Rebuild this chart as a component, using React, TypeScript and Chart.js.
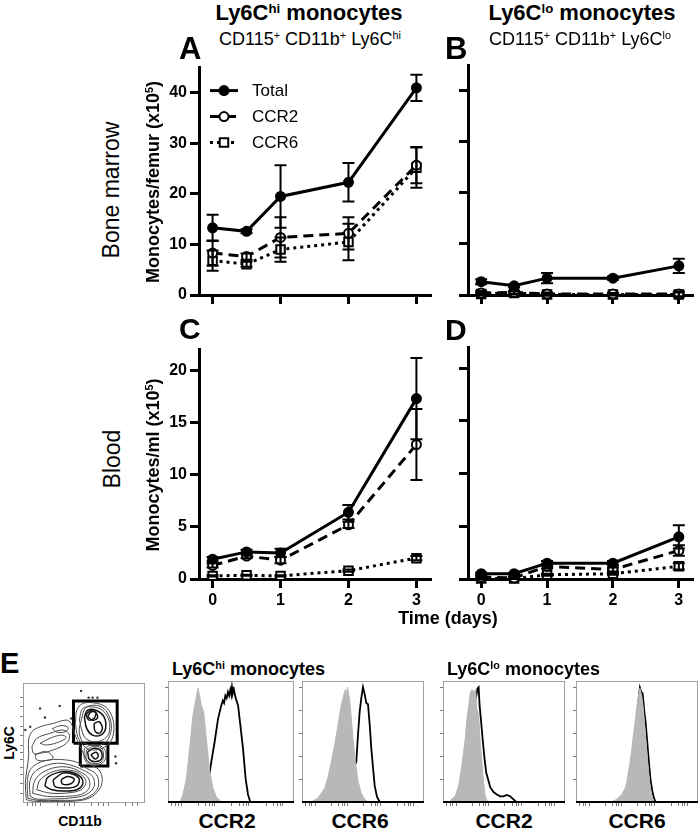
import React, { useEffect, useRef } from 'react';
import { Chart, registerables } from 'chart.js';

Chart.register(...registerables);

const FONT = "'Liberation Sans', Arial, Helvetica, sans-serif";

// ---------- time-course data ----------
const days = [0, 0.5, 1, 2, 3];
const dayTicks = [0, 1, 2, 3];
const bmTicks = [0, 10, 20, 30, 40];
const bloodTicks = [0, 5, 10, 15, 20];
const seriesLabels = ['Total', 'CCR2', 'CCR6'];

// A: bone marrow, Ly6C hi
const bmHiTotal = [13.3, 12.6, 19.5, 22.3, 41.0];
const bmHiTotalErr = [2.6, 0.4, 6.2, 3.8, 2.6];
const bmHiCCR2 = [8.3, 7.6, 11.4, 12.2, 25.7];
const bmHiCCR2Err = [2.5, 0.6, 4.0, 3.2, 3.6];
const bmHiCCR6 = [6.8, 6.1, 9.0, 10.5, 25.2];
const bmHiCCR6Err = [2.0, 0.5, 2.4, 3.6, 4.0];

// B: bone marrow, Ly6C lo
const bmLoTotal = [2.6, 1.8, 3.3, 3.3, 5.7];
const bmLoTotalErr = [0.5, 0.3, 1.0, 0.3, 1.4];
const bmLoCCR2 = [0.4, 0.5, 0.2, 0.2, 0.2];
const bmLoCCR2Err = [0.4, 0.3, 0.3, 0.2, 0.5];
const bmLoCCR6 = [0.2, 0.4, 0.1, 0.1, 0.1];
const bmLoCCR6Err = [0.2, 0.3, 0.2, 0.2, 0.4];

// C: blood, Ly6C hi
const bloodHiTotal = [1.9, 2.6, 2.5, 6.4, 17.3];
const bloodHiTotalErr = [0.2, 0.2, 0.4, 0.7, 3.9];
const bloodHiCCR2 = [1.3, 2.2, 1.8, 5.2, 12.9];
const bloodHiCCR2Err = [0.2, 0.2, 0.3, 0.3, 3.4];
const bloodHiCCR6 = [0.3, 0.35, 0.3, 0.8, 2.0];
const bloodHiCCR6Err = [0.05, 0.05, 0.05, 0.1, 0.2];

// D: blood, Ly6C lo
const bloodLoTotal = [0.5, 0.5, 1.5, 1.5, 4.0];
const bloodLoTotalErr = [0.1, 0.1, 0.2, 0.2, 1.1];
const bloodLoCCR2 = [0.2, 0.1, 1.2, 0.9, 2.7];
const bloodLoCCR2Err = [0.1, 0.1, 0.2, 0.2, 0.5];
const bloodLoCCR6 = [0.05, 0.05, 0.4, 0.5, 1.2];
const bloodLoCCR6Err = [0.05, 0.05, 0.1, 0.1, 0.3];

// ---------- flow histograms (channel %, height %) ----------
const hiCCR2Iso = [[0,0],[9.3,0],[11.9,7],[14.6,20],[17.2,45],[19.8,72],[22.5,87],[23.8,94],[25.1,88],[26.5,80],[28.3,75],[30.4,53],[33.1,26],[35.7,12],[38.4,5],[42.3,1],[45,0],[100,0]];
const hiCCR2Stain = [[0,0],[24,0],[28,8],[31,16],[32.5,21],[34.4,34],[37,50],[39.7,69],[42.3,80],[43.5,84],[44.5,82],[45.5,88],[46.5,86],[47.6,91],[48.5,88],[49.5,93],[50.3,89],[50.8,95],[51.5,90],[52.3,93],[53.7,86],[55.6,80],[57.4,64],[59.5,45],[61.6,20],[63.5,7],[65.3,1],[67.5,0],[100,0]];
const hiCCR6Iso = [[0,0],[5,0],[7.7,1],[13.1,4],[18.6,12],[21.3,21],[24,34],[26.8,48],[29.5,64],[31.7,78],[33.6,86],[35.5,93],[36.4,88],[37.2,95],[38.2,90],[39.1,84],[40.4,70],[41.8,53],[43.7,34],[45.9,18],[48.6,8],[51.4,3],[55.5,0],[100,0]];
const hiCCR6Stain = [[0,0],[30,0],[38,15],[42,28],[44.5,34],[45.9,56],[47.3,75],[48.6,86],[50,95],[51.4,89],[52.7,82],[54.1,81],[55.5,64],[56.8,45],[58.2,29],[59.6,14],[61.5,5],[63.7,1],[65.6,0],[100,0]];
const loCCR2Iso = [[0,0],[4,0],[6,2],[10.1,6],[12.8,14],[15.5,31],[18.3,53],[19.6,69],[21,80],[22.3,90],[23.7,93],[25.6,91],[26.7,93],[27.8,77],[29.2,72],[30.5,50],[31.9,34],[33.2,17],[34.6,6],[36,2],[38.7,0.5],[41.4,0],[100,0]];
const loCCR2Stain = [[0,0],[14,0],[18,25],[22,60],[25,82],[26.4,85],[27.2,87],[28.3,94],[29.2,95],[30,80],[31.3,66],[32.7,50],[34.1,36],[35.4,25],[36.8,20],[38.7,13],[41.4,9],[44.1,7],[46.9,5.5],[49.6,5.5],[52.3,6.6],[55,5.5],[57.8,3],[60.5,0.5],[63.2,0],[100,0]];
const loCCR6Iso = [[0,0],[27,0],[29.3,1],[33.4,3],[37.5,7],[40.2,12],[41.6,17],[42.9,25],[44.3,33],[45.7,44],[47,55],[48.4,66],[49.7,77],[51.1,87],[52.4,94],[53.8,88],[55.2,77],[56.5,61],[57.9,44],[59.2,28],[60.6,14],[62,6],[64.1,1],[66,0],[100,0]];
const loCCR6Stain = [[0,0],[35,0],[42,10],[46,35],[49,62],[51,82],[52.4,94.5],[53.8,90],[54.6,90],[56,75],[57.1,66],[58.4,50],[59.8,33],[61.1,19],[62.5,10],[63.9,4],[65.2,1],[66.8,0],[100,0]];
const flowYTicks = [19, 38, 57, 76, 95];
const flowXTicks = [3, 6, 8, 11, 24, 30, 33, 35, 37, 50, 57, 60, 62, 64, 78, 84, 87, 89, 91];

// ---------- contour plot (CD11b %, Ly6C %) ----------
const lowOuter = [[2.7,2.8],[1.9,16.6],[3.2,27.6],[4.6,38.7],[4.6,52.5],[7.3,59.4],[14,63.5],[24.7,66.3],[35.5,69.1],[39.5,66.3],[42.2,58],[46.2,48.3],[54.3,33.1],[62.4,27.6],[65,19.3],[62.4,11],[54.3,4.1],[40.9,1.4],[22,1.4],[8.6,1.4]];
const lowOuter2 = [[4,4],[3.5,17],[5.5,27],[12,33],[22,36],[34,36],[44,34],[52,29],[60,24],[62,15],[58,8],[48,3],[30,2.2],[12,2.2]];
const lowMid = [[5.9,5.5],[5.4,16.6],[8.6,24.9],[16.7,30.4],[27.4,33.1],[38.2,31.8],[48.9,27.6],[57,22.1],[58.3,13.8],[51.6,6.9],[38.2,4.1],[22,3.3],[11.3,3.3]];
const lowMid2 = [[8,8],[9,17],[14,24],[24,29],[36,30],[47,26],[54,20],[54,12],[47,7],[34,5.5],[20,5.5]];
const lowInner = [[11.3,11],[14,19.3],[24.7,26.2],[35.5,27.6],[46.2,24.9],[51.6,18],[47.6,11],[35.5,8.3],[22,8.3]];
const lowInner2 = [[18,14],[20,21],[29,25.5],[38,26],[47,22],[49,16],[44,11],[33,10],[24,11]];
const lowCore = [[24.7,19.3],[32.8,24.9],[42.2,23.5],[46.2,19.3],[43.5,13.8],[34.1,12.4],[26.1,13.8]];
const lowCenter = [[31.2,19.3],[36.6,22.1],[41.9,19.9],[39.2,16],[32.5,15.7]];
const cloudOuter = [[7.3,47],[11.3,53.9],[22,58],[32.8,60.8],[38.2,56.6],[35.5,49.7],[24.7,44.2],[14,41.4],[8.6,41.4]];
const cloudLower = [[9.9,40.1],[16.7,42.8],[22,41.4],[24.7,37.3],[19.4,35.4],[11.3,35.9]];
const cloudInner = [[14,49.7],[22,53.9],[31.5,56.6],[35.5,54.7],[30.1,51.1],[19.4,48.3]];
const cloudTop = [[24,62],[31,64.5],[37,63],[35,59.5],[28,59]];
const hiOuter = [[43,66.3],[44.1,77.3],[48.9,82.9],[58.3,83.4],[67.7,80.1],[73.1,71.8],[74.5,60.8],[71.8,51.1],[65.1,45.6],[57,44.2],[50.3,47],[44.9,55.2]];
const hiOuter2 = [[48,70],[51,79],[58,81.5],[66,79],[71.5,70],[72,59],[67,50],[57,48],[49,51],[46,60]];
const hiMid = [[46.2,69.1],[48.9,78.7],[57,80.1],[65.1,77.3],[70.4,69.1],[70.4,58],[65.1,52.5],[57,51.1],[50.3,55.2]];
const hiInner = [[50.3,71.8],[53,77.3],[59.7,77.3],[66.4,71.8],[67.7,62.2],[63.7,56.6],[57,56.6],[52.2,62.2]];
const hiCore = [[51.6,73.5],[55.6,77.1],[59.7,75.4],[58.3,70.7],[53.8,69.3]];
const hiDense = [[53,72],[56,76],[60,75],[61,71],[57,69]];
const hiCore2 = [[58.3,66.3],[62.4,67.7],[65.1,62.2],[62.4,58],[58.9,60.2]];
const midOuter = [[50.3,45.6],[55.6,48.3],[63.7,47.5],[67.7,42.8],[67.2,35.9],[62.4,31.8],[54.3,31.8],[50.3,37.3]];
const midOuter2 = [[52,44],[57,47],[64,46],[66,40],[64,34],[57,33],[52,36]];
const midInner = [[53,42.8],[58.3,45.6],[63.7,43.6],[64.5,37.3],[59.7,34.5],[54.3,36.5]];
const midCore = [[55.6,40.1],[59.7,42.3],[61.8,39.2],[59.1,36.7]];
const outlierEvents = [[14,78.7],[30.1,80.9],[47.6,93.4],[53.8,87.8],[57,87.8],[61,87.8],[18,71.3],[39.5,70.4],[75.8,38.7],[76.3,33.1],[5.9,63.5],[1.9,60.8]];
const gateHiU = [41.4, 77.2];
const gateHiV = [49.7, 85.1];
const gateLoU = [47, 69.6];
const gateLoV = [30.9, 49.7];
const contourYTicks = [8, 16, 24, 30, 36, 42, 48, 56, 64, 72, 80, 88];
const contourXTicks = [4, 8, 10, 14, 28, 34, 38, 42, 56, 62, 66, 70, 84, 90, 94];

// ---------- styles ----------
const seriesDash = [[], [10, 6], [3, 4]];
const seriesPointStyle = ['circle', 'circle', 'rect'];
const seriesPointRadius = [4.5, 4.5, 6];
const seriesPointFill = ['#000', '#fff', '#fff'];

const toXY = (pairs: number[][]) => pairs.map(([x, y]) => ({ x, y }));

const errorBarPlugin = {
  id: 'errorBars',
  afterDatasetsDraw(chart: any, _args: any, opts: any) {
    const errs = opts && opts.errors;
    if (!errs) return;
    const { ctx } = chart;
    const xs = chart.scales.x;
    const ys = chart.scales.y;
    const cap = 6;
    ctx.save();
    ctx.strokeStyle = '#000';
    ctx.lineWidth = 2;
    ctx.setLineDash([]);
    chart.data.datasets.forEach((ds: any, i: number) => {
      const e = errs[i];
      if (!e) return;
      ds.data.forEach((p: any, j: number) => {
        const x = xs.getPixelForValue(p.x);
        const yTop = ys.getPixelForValue(p.y + e[j]);
        const yBot = ys.getPixelForValue(p.y - e[j]);
        ctx.beginPath();
        ctx.moveTo(x, yBot);
        ctx.lineTo(x, yTop);
        ctx.moveTo(x - cap, yTop);
        ctx.lineTo(x + cap, yTop);
        ctx.moveTo(x - cap, yBot);
        ctx.lineTo(x + cap, yBot);
        ctx.stroke();
      });
    });
    ctx.restore();
  },
};

const lineLegendPlugin = {
  id: 'lineLegend',
  afterDraw(chart: any, _args: any, opts: any) {
    if (!opts || !opts.show) return;
    const { ctx, chartArea } = chart;
    seriesLabels.forEach((label, i) => {
      const y = chartArea.top + 23 + i * 26;
      const x0 = chartArea.left + 11;
      const len = 28;
      ctx.save();
      ctx.strokeStyle = '#000';
      ctx.lineWidth = 3;
      ctx.setLineDash(seriesDash[i]);
      ctx.beginPath();
      ctx.moveTo(x0, y);
      ctx.lineTo(x0 + len, y);
      ctx.stroke();
      ctx.setLineDash([]);
      ctx.lineWidth = 2;
      ctx.fillStyle = seriesPointFill[i];
      const cx = x0 + len / 2;
      ctx.beginPath();
      if (seriesPointStyle[i] === 'rect') {
        const s = seriesPointRadius[i] * Math.SQRT1_2;
        ctx.rect(cx - s, y - s, 2 * s, 2 * s);
      } else {
        ctx.arc(cx, y, seriesPointRadius[i], 0, Math.PI * 2);
      }
      ctx.fill();
      ctx.stroke();
      ctx.fillStyle = '#000';
      ctx.font = `17px ${FONT}`;
      ctx.textBaseline = 'middle';
      ctx.fillText(label, x0 + 42, y + 1);
      ctx.restore();
    });
  },
};

const framePlugin = {
  id: 'frame',
  afterDraw(chart: any, _args: any, opts: any) {
    if (!opts || !opts.on) return;
    const { ctx, chartArea: a } = chart;
    ctx.save();
    ctx.strokeStyle = '#a0a0a0';
    ctx.lineWidth = 1;
    ctx.strokeRect(a.left + 0.5, a.top + 0.5, a.right - a.left - 1, a.bottom - a.top - 1);
    if (opts.bottomBlack) {
      ctx.strokeStyle = '#000';
      ctx.lineWidth = 2;
      ctx.beginPath();
      ctx.moveTo(a.left, a.bottom - 1);
      ctx.lineTo(a.right, a.bottom - 1);
      ctx.stroke();
    }
    ctx.restore();
  },
};

function axisOpts(tickVals: number[], min: number, max: number, labels: boolean, fit: (s: any) => void) {
  return {
    type: 'linear',
    min,
    max,
    afterBuildTicks: (s: any) => {
      s.ticks = tickVals.map((v) => ({ value: v }));
    },
    afterFit: fit,
    grid: { display: true, drawOnChartArea: false, drawTicks: true, tickLength: 9, lineWidth: 3, color: '#000' },
    border: { display: true, width: 3, color: '#000' },
    ticks: {
      display: labels,
      color: '#000',
      font: { family: FONT, size: 16, weight: 'bold' },
      padding: 3,
      autoSkip: false,
      maxRotation: 0,
    },
  };
}

function timeCourse(values: number[][], errors: number[][], yMax: number, yTicks: number[], o: { xLabels: boolean; yLabels: boolean; legend: boolean; padRight: number; xHeight: number }) {
  return {
    type: 'line',
    data: {
      datasets: values.map((vals, i) => ({
        label: seriesLabels[i],
        data: days.map((d, j) => ({ x: d, y: vals[j] })),
        borderColor: '#000',
        borderWidth: 3,
        borderDash: seriesDash[i],
        pointStyle: seriesPointStyle[i],
        pointRadius: seriesPointRadius[i],
        pointBackgroundColor: seriesPointFill[i],
        pointBorderColor: '#000',
        pointBorderWidth: 2,
        tension: 0,
        fill: false,
        clip: false,
      })),
    },
    options: {
      responsive: false,
      animation: false,
      devicePixelRatio: 1,
      layout: { padding: { top: 10, right: o.padRight, left: 0, bottom: 0 } },
      plugins: {
        legend: { display: false },
        tooltip: { enabled: false },
        errorBars: { errors },
        lineLegend: { show: o.legend },
      },
      scales: {
        x: axisOpts(dayTicks, -0.2, 3.2, o.xLabels, (s: any) => { s.height = o.xHeight; }),
        y: axisOpts(yTicks, 0, yMax, o.yLabels, (s: any) => { s.width = 59; }),
      },
    },
    plugins: [errorBarPlugin, lineLegendPlugin],
  };
}

function flowScale(tickVals: number[], fit: (s: any) => void) {
  return {
    type: 'linear',
    min: 0,
    max: 100,
    afterBuildTicks: (s: any) => {
      s.ticks = tickVals.map((v) => ({ value: v }));
    },
    afterFit: fit,
    grid: { display: true, drawOnChartArea: false, drawTicks: true, tickLength: 3, lineWidth: 1, color: '#777' },
    border: { display: false },
    ticks: { display: false },
  };
}

function flowOptions(xTicks: number[], yTicks: number[], bottomBlack: boolean) {
  return {
    responsive: false,
    animation: false,
    devicePixelRatio: 1,
    layout: { padding: { top: 2, right: 2, left: 0, bottom: 0 } },
    plugins: { legend: { display: false }, tooltip: { enabled: false }, frame: { on: true, bottomBlack } },
    scales: {
      x: flowScale(xTicks, (s: any) => { s.height = 4; }),
      y: flowScale(yTicks, (s: any) => { s.width = 4; }),
    },
  };
}

function flowHist(iso: number[][], stain: number[][]) {
  return {
    type: 'line',
    data: {
      datasets: [
        { data: toXY(iso), fill: 'origin', backgroundColor: '#b8b8b8', borderColor: '#b8b8b8', borderWidth: 1, pointRadius: 0, tension: 0 },
        { data: toXY(stain), fill: false, borderColor: '#000', borderWidth: 1.8, pointRadius: 0, tension: 0 },
      ],
    },
    options: flowOptions(flowXTicks, flowYTicks, true),
    plugins: [framePlugin],
  };
}

const rectFrom = (u: number[], v: number[]) => [[u[0], v[0]], [u[0], v[1]], [u[1], v[1]], [u[1], v[0]], [u[0], v[0]]];

function contourConfig() {
  const loops = [lowOuter, lowOuter2, lowMid, lowMid2, lowInner, lowInner2, lowCore, lowCenter, cloudOuter, cloudLower, cloudInner, cloudTop, hiOuter, hiOuter2, hiMid, hiInner, hiCore, hiDense, hiCore2, midOuter, midOuter2, midInner, midCore];
  const inner = new Set([lowCore, lowCenter, lowInner2, hiCore, hiDense, hiCore2, midCore, midInner, hiInner]);
  const datasets: any[] = loops.map((loop) => ({
    data: toXY([...loop, loop[0]]),
    borderColor: inner.has(loop) ? '#111' : '#4a4a4a',
    borderWidth: inner.has(loop) ? 1.5 : 1,
    tension: 0.35,
    pointRadius: 0,
    fill: false,
  }));
  datasets.push({ data: toXY(outlierEvents), showLine: false, pointRadius: 1.2, pointBackgroundColor: '#333', pointBorderWidth: 0 });
  datasets.push({ data: toXY(rectFrom(gateHiU, gateHiV)), borderColor: '#000', borderWidth: 3, tension: 0, pointRadius: 0, fill: false });
  datasets.push({ data: toXY(rectFrom(gateLoU, gateLoV)), borderColor: '#000', borderWidth: 3, tension: 0, pointRadius: 0, fill: false });
  return {
    type: 'line',
    data: { datasets },
    options: flowOptions(contourXTicks, contourYTicks, false),
    plugins: [framePlugin],
  };
}

// ---------- components ----------
function ChartBox({ x, y, w, h, make }: { x: number; y: number; w: number; h: number; make: () => any }) {
  const ref = useRef<HTMLCanvasElement>(null);
  useEffect(() => {
    const chart = new Chart(ref.current as HTMLCanvasElement, make());
    return () => chart.destroy();
  }, []);
  return <canvas ref={ref} width={w} height={h} style={{ position: 'absolute', left: x, top: y, width: w, height: h }} />;
}

const Sup = ({ children }: { children: any }) => (
  <sup style={{ fontSize: '0.6em', lineHeight: 0, verticalAlign: '0.55em' }}>{children}</sup>
);

function Txt({ x, y, size, bold, center, children }: { x: number; y: number; size: number; bold?: boolean; center?: boolean; children: any }) {
  return (
    <div
      style={{
        position: 'absolute',
        left: x,
        top: y,
        transform: center ? 'translateX(-50%)' : undefined,
        whiteSpace: 'nowrap',
        fontFamily: FONT,
        fontSize: size,
        fontWeight: bold ? 'bold' : 'normal',
        lineHeight: 1,
        color: '#000',
      }}
    >
      {children}
    </div>
  );
}

function Rot({ cx, cy, size, bold, children }: { cx: number; cy: number; size: number; bold?: boolean; children: any }) {
  return (
    <div
      style={{
        position: 'absolute',
        left: cx,
        top: cy,
        transform: 'translate(-50%, -50%) rotate(-90deg)',
        whiteSpace: 'nowrap',
        fontFamily: FONT,
        fontSize: size,
        fontWeight: bold ? 'bold' : 'normal',
        lineHeight: 1,
        color: '#000',
      }}
    >
      {children}
    </div>
  );
}

export default function App() {
  return (
    <div style={{ position: 'absolute', left: 0, top: 0, width: 700, height: 830, background: '#fff', overflow: 'hidden' }}>
      <ChartBox x={140} y={55} w={300} h={270} make={() => timeCourse([bmHiTotal, bmHiCCR2, bmHiCCR6], [bmHiTotalErr, bmHiCCR2Err, bmHiCCR6Err], 45, bmTicks, { xLabels: false, yLabels: true, legend: true, padRight: 10, xHeight: 30 })} />
      <ChartBox x={409} y={55} w={291} h={270} make={() => timeCourse([bmLoTotal, bmLoCCR2, bmLoCCR6], [bmLoTotalErr, bmLoCCR2Err, bmLoCCR6Err], 45, bmTicks, { xLabels: false, yLabels: false, legend: false, padRight: 3, xHeight: 30 })} />
      <ChartBox x={140} y={337} w={300} h={275} make={() => timeCourse([bloodHiTotal, bloodHiCCR2, bloodHiCCR6], [bloodHiTotalErr, bloodHiCCR2Err, bloodHiCCR6Err], 22, bloodTicks, { xLabels: true, yLabels: true, legend: false, padRight: 10, xHeight: 33 })} />
      <ChartBox x={409} y={337} w={291} h={275} make={() => timeCourse([bloodLoTotal, bloodLoCCR2, bloodLoCCR6], [bloodLoTotalErr, bloodLoCCR2Err, bloodLoCCR6Err], 22, bloodTicks, { xLabels: true, yLabels: false, legend: false, padRight: 3, xHeight: 33 })} />

      <ChartBox x={19} y={679} w={130} h={128} make={contourConfig} />
      <ChartBox x={164} y={679} w={132} h={128} make={() => flowHist(hiCCR2Iso, hiCCR2Stain)} />
      <ChartBox x={298} y={679} w={128} h={128} make={() => flowHist(hiCCR6Iso, hiCCR6Stain)} />
      <ChartBox x={439} y={679} w={128} h={128} make={() => flowHist(loCCR2Iso, loCCR2Stain)} />
      <ChartBox x={572} y={679} w={128} h={128} make={() => flowHist(loCCR6Iso, loCCR6Stain)} />

      <Txt x={309} y={2} size={22} bold center>Ly6C<Sup>hi</Sup> monocytes</Txt>
      <Txt x={582} y={2} size={22} bold center>Ly6C<Sup>lo</Sup> monocytes</Txt>
      <Txt x={310} y={30} size={18} center>CD115<Sup>+</Sup> CD11b<Sup>+</Sup> Ly6C<Sup>hi</Sup></Txt>
      <Txt x={580} y={30} size={18} center>CD115<Sup>+</Sup> CD11b<Sup>+</Sup> Ly6C<Sup>lo</Sup></Txt>

      <Txt x={179} y={33} size={31} bold>A</Txt>
      <Txt x={445} y={33} size={31} bold>B</Txt>
      <Txt x={179} y={314} size={30} bold>C</Txt>
      <Txt x={445} y={315} size={30} bold>D</Txt>
      <Txt x={0} y={649} size={29} bold>E</Txt>

      <Rot cx={111} cy={190} size={23}>Bone marrow</Rot>
      <Rot cx={112} cy={459} size={23}>Blood</Rot>
      <Rot cx={153} cy={182} size={18} bold>Monocytes/femur (x10<Sup>5</Sup>)</Rot>
      <Rot cx={153} cy={465} size={18} bold>Monocytes/ml (x10<Sup>5</Sup>)</Rot>

      <Txt x={448} y={609} size={18} bold center>Time (days)</Txt>

      <Txt x={172} y={660} size={18} bold>Ly6C<Sup>hi</Sup> monocytes</Txt>
      <Txt x={447} y={660} size={18} bold>Ly6C<Sup>lo</Sup> monocytes</Txt>

      <Rot cx={9} cy={743} size={14} bold>Ly6C</Rot>
      <Txt x={80} y={814} size={14} bold center>CD11b</Txt>

      <Txt x={227} y={810} size={21} bold center>CCR2</Txt>
      <Txt x={360} y={810} size={21} bold center>CCR6</Txt>
      <Txt x={504} y={810} size={21} bold center>CCR2</Txt>
      <Txt x={637} y={810} size={21} bold center>CCR6</Txt>
    </div>
  );
}
